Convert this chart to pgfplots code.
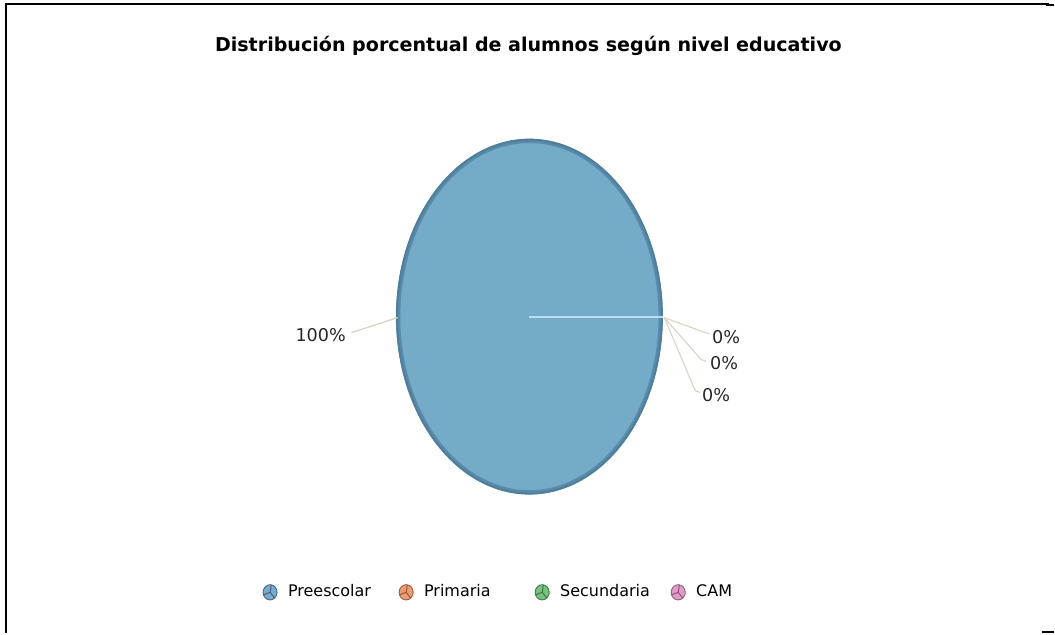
\documentclass[border=0pt]{standalone}
\usepackage{pgfplots}
\usepackage{pgfplotstable}
\pgfplotsset{compat=1.18}
\usepackage{fontspec}
\setmainfont{DejaVu Sans}
\definecolor{pieA}{HTML}{74ABC9}
\definecolor{rimA}{HTML}{4E7E9B}
\definecolor{colA}{HTML}{7AAAD0}
\definecolor{colB}{HTML}{EF9C72}
\definecolor{colC}{HTML}{74C27B}
\definecolor{colD}{HTML}{E49BC9}
\definecolor{leader}{HTML}{DAD6C6}
\definecolor{slice}{HTML}{B8DDF2}

\pgfplotstableread{
nivel valor
Preescolar 100
Primaria 0
Secundaria 0
CAM 0
}\datos
\pgfplotstablegetelem{0}{valor}\of\datos \let\vA\pgfplotsretval

\pgfplotsset{pieicon/.style={legend image code/.code={
  \path (-4pt,0pt) (6.8pt,0pt);
  \fill[#1, draw=#1!65!black, line width=0.5pt] (0pt,0pt) ellipse[x radius=3.5pt, y radius=3.8pt];
  \draw[#1!55!black, line width=0.45pt] (0pt,0pt) -- (0.6pt,3.7pt) (0pt,0pt) -- (-3.3pt,-1.25pt) (0pt,0pt) -- (2.25pt,-2.85pt);
}}}

\begin{document}
\begin{tikzpicture}
\begin{axis}[
  width=527.5pt, height=317pt, scale only axis,
  xmin=0, xmax=1055, ymin=0, ymax=634,
  axis lines=none, clip=false,
  legend columns=4,
  legend style={at={(axis cs:262,41)}, anchor=west, draw=none, fill=none,
    inner sep=0pt, outer sep=0pt,
    font=\fontsize{8}{9.5}\selectfont,
    nodes={text width=52.9pt, align=left}},
]
\path (axis cs:0,0) (axis cs:1055,634);
% frame
\addplot[black, line width=0.6pt, forget plot] coordinates {(6,630) (1050,630)};
\addplot[black, line width=1.2pt, forget plot] coordinates {(1047,629) (1055,629)};
\addplot[black, line width=1.1pt, forget plot] coordinates {(6,630.5) (6,0)};
\addplot[black, line width=1pt, forget plot] coordinates {(1043,1.5) (1055,1.5)};

% pie slice (Preescolar)
\addplot[fill=pieA, draw=rimA!70!pieA, line width=2.2pt, domain=0:{3.6*\vA}, samples=200, variable=\t, forget plot]
  ({530+131.5*cos(t)}, {317-176*sin(t)});
\addplot[draw=rimA, line width=0.9pt, domain=0:{3.6*\vA}, samples=200, variable=\t, forget plot]
  ({530+132.5*cos(t)}, {317-177*sin(t)});
% zero-width slice border
\addplot[slice, line width=1pt, forget plot] coordinates {(530,317) (664,317)};

% leader lines
\addplot[leader, line width=0.7pt, forget plot] coordinates {(398,316) (352,301)};
\addplot[leader, line width=0.6pt, forget plot] coordinates {(665,316) (706,301) (710,300)};
\addplot[leader, line width=0.6pt, forget plot] coordinates {(665,316) (702,274) (707,272)};
\addplot[leader, line width=0.6pt, forget plot] coordinates {(665,316) (696,243) (701,241)};

\node[font=\fontsize{8.8}{10}\selectfont, text=black!85] at (axis cs:321,299) {100\%};
\node[font=\fontsize{8.8}{10}\selectfont, text=black!85] at (axis cs:727,297) {0\%};
\node[font=\fontsize{8.8}{10}\selectfont, text=black!85] at (axis cs:725,270) {0\%};
\node[font=\fontsize{8.8}{10}\selectfont, text=black!85] at (axis cs:717,238) {0\%};

\node[font=\bfseries\fontsize{9.55}{11}\selectfont] at (axis cs:529,588) {Distribución porcentual de alumnos según nivel educativo};

\addlegendimage{pieicon=colA}
\addlegendentry{Preescolar}
\addlegendimage{pieicon=colB}
\addlegendentry{Primaria}
\addlegendimage{pieicon=colC}
\addlegendentry{Secundaria}
\addlegendimage{pieicon=colD}
\addlegendentry{CAM}
\end{axis}
\end{tikzpicture}
\end{document}
